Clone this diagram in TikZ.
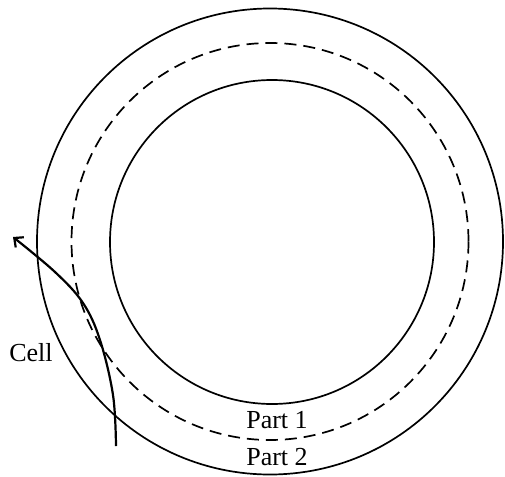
\documentclass[tikz,border=0pt]{standalone}
\usepackage{fontspec}
\setmainfont{Liberation Serif}
\usetikzlibrary{arrows.meta}
\begin{document}
\begin{tikzpicture}[x=1pt,y=-1pt,
  ring/.style={line width=1.7pt},
  dashring/.style={line width=1.7pt,dash pattern=on 12pt off 7pt},
  lbl/.style={font=\fontsize{26}{30}\selectfont,inner sep=0pt},
  arr/.style={line width=2.2pt,-{Straight Barb[length=7pt,width=13pt]}}]
\useasboundingbox (0,0) rectangle (505,476);
\coordinate (c) at (270,241.5);
\draw[ring] (c) circle[radius=233];
\draw[dashring] (c) circle[radius=198.5];
\draw[ring] (272,242) circle[radius=162];
\node[lbl] (cell) at (31,353) {Cell};
\node[lbl] (p1) at (277,420) {Part 1};
\node[lbl] (p2) at (277,457) {Part 2};
\coordinate (s) at (116,446);
\coordinate (e) at (13,237);
\draw[arr] plot[smooth,tension=0.6] coordinates {(s) (113,395) (100,340) (83,303) (55,272) (e)};
\end{tikzpicture}
\end{document}
